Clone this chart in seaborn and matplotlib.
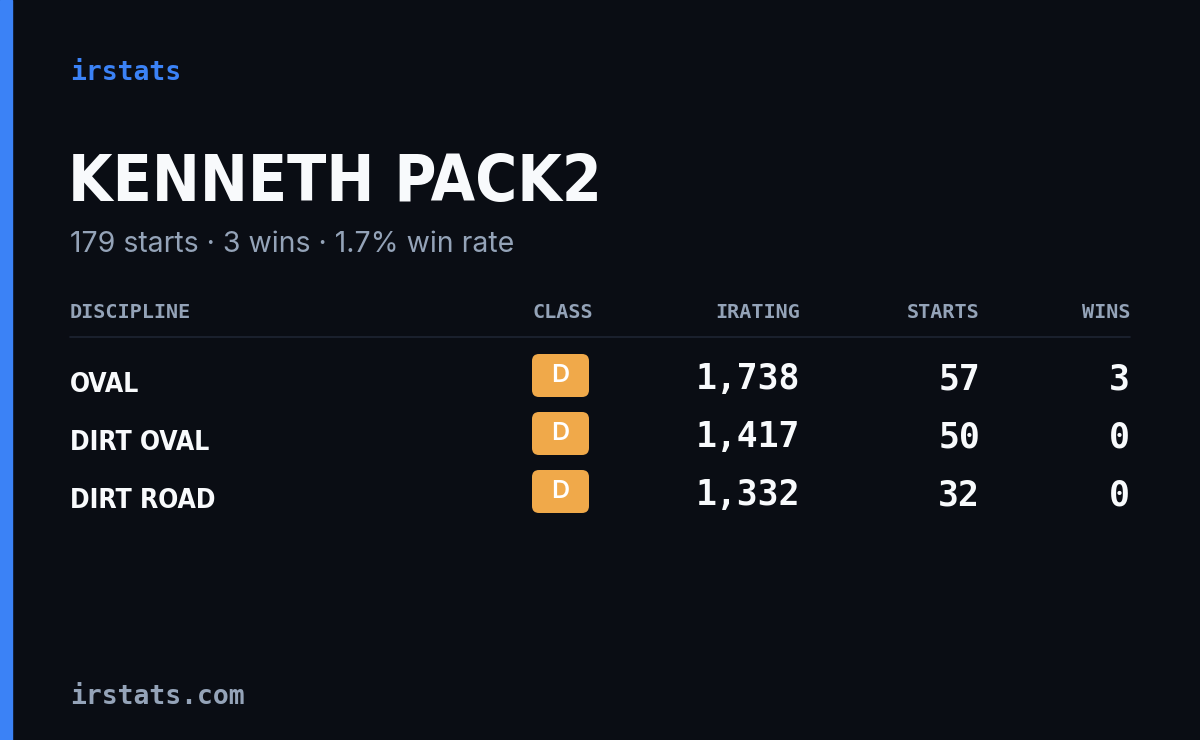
import matplotlib
matplotlib.use("Agg")
import matplotlib.pyplot as plt
import seaborn as sns
from matplotlib.patches import FancyBboxPatch, Rectangle

disciplines = ["OVAL", "DIRT OVAL", "DIRT ROAD"]
classes = ["D", "D", "D"]
iratings = [1738, 1417, 1332]
starts = [57, 50, 32]
wins = [3, 0, 0]
headers = ["DISCIPLINE", "CLASS", "IRATING", "STARTS", "WINS"]
driver = "KENNETH PACK2"
total_starts, total_wins = 179, 3

sns.set_theme(style="dark")
BG = "#0a0d14"
plt.rcParams['font.family'] = ['DejaVu Sans']

fig = plt.figure(figsize=(12, 7.4), dpi=100, facecolor=BG)
ax = fig.add_axes([0, 0, 1, 1])
ax.set_facecolor(BG)
ax.set_xlim(0, 1200); ax.set_ylim(740, 0); ax.axis("off")

ax.add_patch(Rectangle((0, 0), 12, 740, color="#3b82f6"))
mono = "DejaVu Sans Mono"
narrow = ["DejaVu Sans"]

ax.text(70, 73, "irstats", color="#3b82f6", fontsize=19, family=mono, weight="bold", va="center")
ax.text(68, 183, driver, color="#f8fafc", fontsize=46, family=narrow, weight="bold",
        fontstretch="condensed", va="center")
ax.text(70, 245, f"{total_starts} starts · {total_wins} wins · {100*total_wins/total_starts:.1f}% win rate",
        color="#94a3b8", fontsize=20.5, family=["Inter", "DejaVu Sans"], va="center")

hx = [70, 593, 800, 980, 1130]
ha = ["left", "right", "right", "right", "right"]
for x, h, a in zip(hx, headers, ha):
    ax.text(x, 313, h, color="#94a3b8", fontsize=14.5, family=mono, weight="bold", ha=a, va="center")
ax.plot([70, 1130], [337, 337], color="#1e2533", lw=1.2)

for i, (d, c, r, s, w) in enumerate(zip(disciplines, classes, iratings, starts, wins)):
    y = 380 + 58 * i
    ax.text(70, y + 5, d, color="#f8fafc", fontsize=19, family=narrow, weight="bold",
            fontstretch="condensed", va="center")
    ax.add_patch(FancyBboxPatch((532, y - 26), 57, 43, boxstyle="round,pad=0,rounding_size=7",
                                color="#f0a94a", lw=0))
    ax.text(560, y - 5, c, color="white", fontsize=18, family=["Inter", "DejaVu Sans"],
            weight="semibold", ha="center", va="center")
    ax.text(800, y - 1, f"{r:,}", color="#f8fafc", fontsize=25, family=mono, weight="bold", ha="right", va="center")
    ax.text(980, y - 1, f"{s}", color="#f8fafc", fontsize=25, family=mono, weight="bold", ha="right", va="center")
    ax.text(1130, y - 1, f"{w}", color="#f8fafc", fontsize=25, family=mono, weight="bold", ha="right", va="center")

ax.text(70, 697, "irstats.com", color="#94a3b8", fontsize=19, family=mono, weight="bold", va="center")
fig.savefig("out.png", dpi=100, facecolor=BG)
